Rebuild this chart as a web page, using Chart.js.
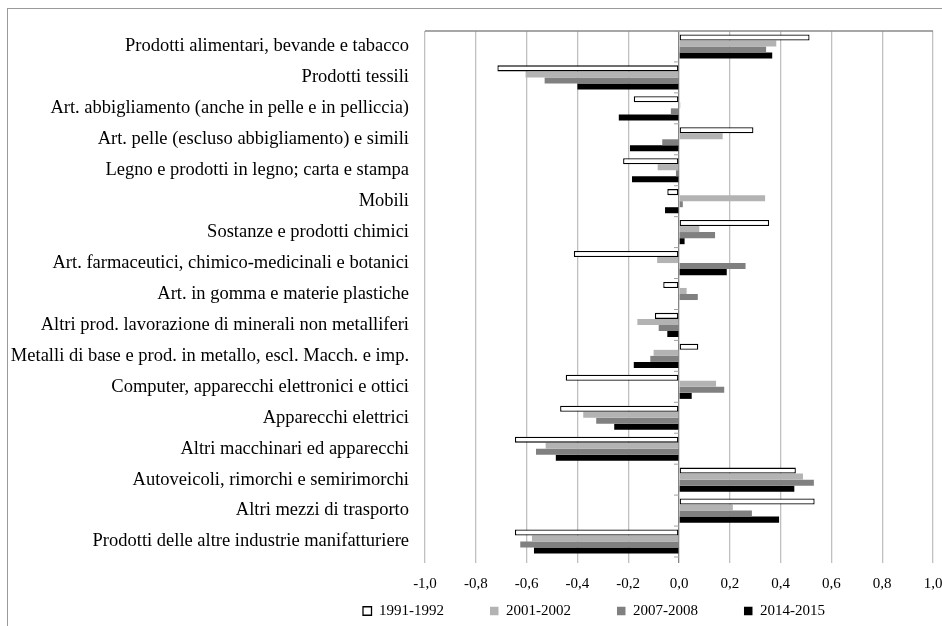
<!DOCTYPE html>
<html>
<head>
<meta charset="utf-8">
<script src="https://cdn.jsdelivr.net/npm/chart.js@4"></script>
<style>
  html, body { margin: 0; padding: 0; background: #fff; }
  #wrap { position: relative; width: 942px; height: 626px; overflow: hidden; }
  #frame { position: absolute; left: 7px; top: 8px; width: 960px; height: 640px;
           border-left: 1.5px solid #9a9a9a; border-top: 1.5px solid #9a9a9a; }
  #chart { position: absolute; left: 0; top: 0; }
</style>
</head>
<body>
<div id="wrap">
  <div id="frame"></div>
  <canvas id="chart" width="942" height="626"></canvas>
</div>
<script>
// ================= DATI =================

const settori = [
  "Prodotti alimentari, bevande e tabacco",
  "Prodotti tessili",
  "Art. abbigliamento (anche in pelle e in pelliccia)",
  "Art. pelle (escluso abbigliamento) e simili",
  "Legno e prodotti in legno; carta e stampa",
  "Mobili",
  "Sostanze e prodotti chimici",
  "Art. farmaceutici, chimico-medicinali e botanici",
  "Art. in gomma e materie plastiche",
  "Altri prod. lavorazione di minerali non metalliferi",
  "Metalli di base e prod. in metallo, escl. Macch. e imp.",
  "Computer, apparecchi elettronici e ottici",
  "Apparecchi elettrici",
  "Altri macchinari ed apparecchi",
  "Autoveicoli, rimorchi e semirimorchi",
  "Altri mezzi di trasporto",
  "Prodotti delle altre industrie manifatturiere",
];

const periodi = ["1991-1992", "2001-2002", "2007-2008", "2014-2015"];

const val1991 = [0.514, -0.715, -0.178, 0.293, -0.22, -0.046, 0.355, -0.414, -0.062, -0.095, 0.076, -0.446, -0.468, -0.646, 0.46, 0.534, -0.646];
const val2001 = [0.383, -0.604, 0.005, 0.172, -0.084, 0.339, 0.08, -0.086, 0.03, -0.164, -0.1, 0.146, -0.377, -0.525, 0.488, 0.212, -0.579];
const val2007 = [0.343, -0.529, -0.032, -0.066, -0.012, 0.015, 0.142, 0.262, 0.074, -0.08, -0.113, 0.178, -0.326, -0.563, 0.531, 0.287, -0.625];
const val2014 = [0.367, -0.4, -0.237, -0.193, -0.185, -0.055, 0.022, 0.188, 0, -0.046, -0.178, 0.05, -0.255, -0.485, 0.454, 0.394, -0.571];

const tickLabels = ["-1,0", "-0,8", "-0,6", "-0,4", "-0,2", "0,0", "0,2", "0,4", "0,6", "0,8", "1,0"];

// ================= STILE =================

const FONT = "'Liberation Serif', 'Times New Roman', serif";
const LEGEND_LEFT = 363;
const LEGEND_TOP = 603.5;

const ritocchi = {
  id: "ritocchi",
  afterLayout(chart) {
    // legenda spostata come nell'originale (Excel non la centra)
    const lg = chart.legend;
    const p = lg.options.labels.padding;
    const w = lg.width, h = lg.height;
    lg.left = LEGEND_LEFT - p;
    lg.right = lg.left + w;
    lg.top = LEGEND_TOP - p;
    lg.bottom = lg.top + h;
    // l'asse x ha altezza 0: si allarga l'area dove le etichette non vengono tagliate
    chart.scales.x.bottom = chart.height;
  },
  beforeDatasetsDraw(chart) {
    const { ctx, chartArea } = chart;
    const x = chart.scales.x;
    const y = chart.scales.y;
    ctx.save();
    ctx.strokeStyle = "#8a8a8a";
    ctx.lineWidth = 1.5;
    ctx.beginPath();
    ctx.moveTo(chartArea.left, chartArea.top);
    ctx.lineTo(chartArea.right, chartArea.top);
    ctx.stroke();

    // tacche delle categorie sull'asse dello zero
    const x0 = x.getPixelForValue(0);
    const step = y.getPixelForValue(1) - y.getPixelForValue(0);
    ctx.strokeStyle = "#a0a0a0";
    ctx.lineWidth = 1;
    for (let i = 0; i <= settori.length; i++) {
      const yy = y.getPixelForValue(i) - step / 2;
      ctx.beginPath();
      ctx.moveTo(x0 - 5, yy);
      ctx.lineTo(x0, yy);
      ctx.stroke();
    }
    ctx.restore();
  },
};

function serie(label, data, colore) {
  const bianco = colore === "#ffffff";
  return {
    label,
    data,
    backgroundColor: colore,
    borderColor: bianco ? "#000000" : colore,
    borderWidth: bianco ? 1.3 : 0,
    borderSkipped: false,
    categoryPercentage: 0.78,
    barPercentage: 1.0,
  };
}

new Chart(document.getElementById("chart").getContext("2d"), {
  type: "bar",
  data: {
    labels: settori,
    datasets: [
      serie(periodi[0], val1991, "#ffffff"),
      serie(periodi[1], val2001, "#b3b3b3"),
      serie(periodi[2], val2007, "#808080"),
      serie(periodi[3], val2014, "#000000"),
    ],
  },
  options: {
    indexAxis: "y",
    responsive: false,
    animation: false,
    devicePixelRatio: 1,
    layout: { padding: { left: 0, right: 9, top: 31, bottom: 0 } },
    plugins: {
      legend: {
        position: "bottom",
        align: "start",
        maxHeight: 69,
        labels: {
          font: { family: FONT, size: 15 },
          color: "#000",
          boxWidth: 8.5,
          boxHeight: 8.5,
          padding: 46,
        },
      },
      tooltip: { enabled: false },
    },
    scales: {
      x: {
        min: -1,
        max: 1,
        ticks: {
          stepSize: 0.2,
          padding: 12,
          color: "#000",
          font: { family: FONT, size: 15 },
          callback: (v, i) => tickLabels[i],
        },
        grid: {
          color: (c) => (c.tick && Math.abs(c.tick.value) < 1e-9 ? "#858585" : "#c0c0c0"),
          lineWidth: 1.3,
          tickLength: 6,
          drawTicks: true,
        },
        border: { display: false },
        afterFit(scale) {
          scale.height = 0;
          scale.paddingLeft = 0;
          scale.paddingRight = 0;
        },
      },
      y: {
        ticks: {
          autoSkip: false,
          padding: 16,
          color: "#000",
          font: { family: FONT, size: 18.5 },
        },
        grid: { display: false, drawTicks: false },
        border: { display: false },
        afterFit(scale) {
          scale.width = 425;
          scale.paddingTop = 0;
          scale.paddingBottom = 0;
        },
      },
    },
  },
  plugins: [ritocchi],
});
</script>
</body>
</html>
